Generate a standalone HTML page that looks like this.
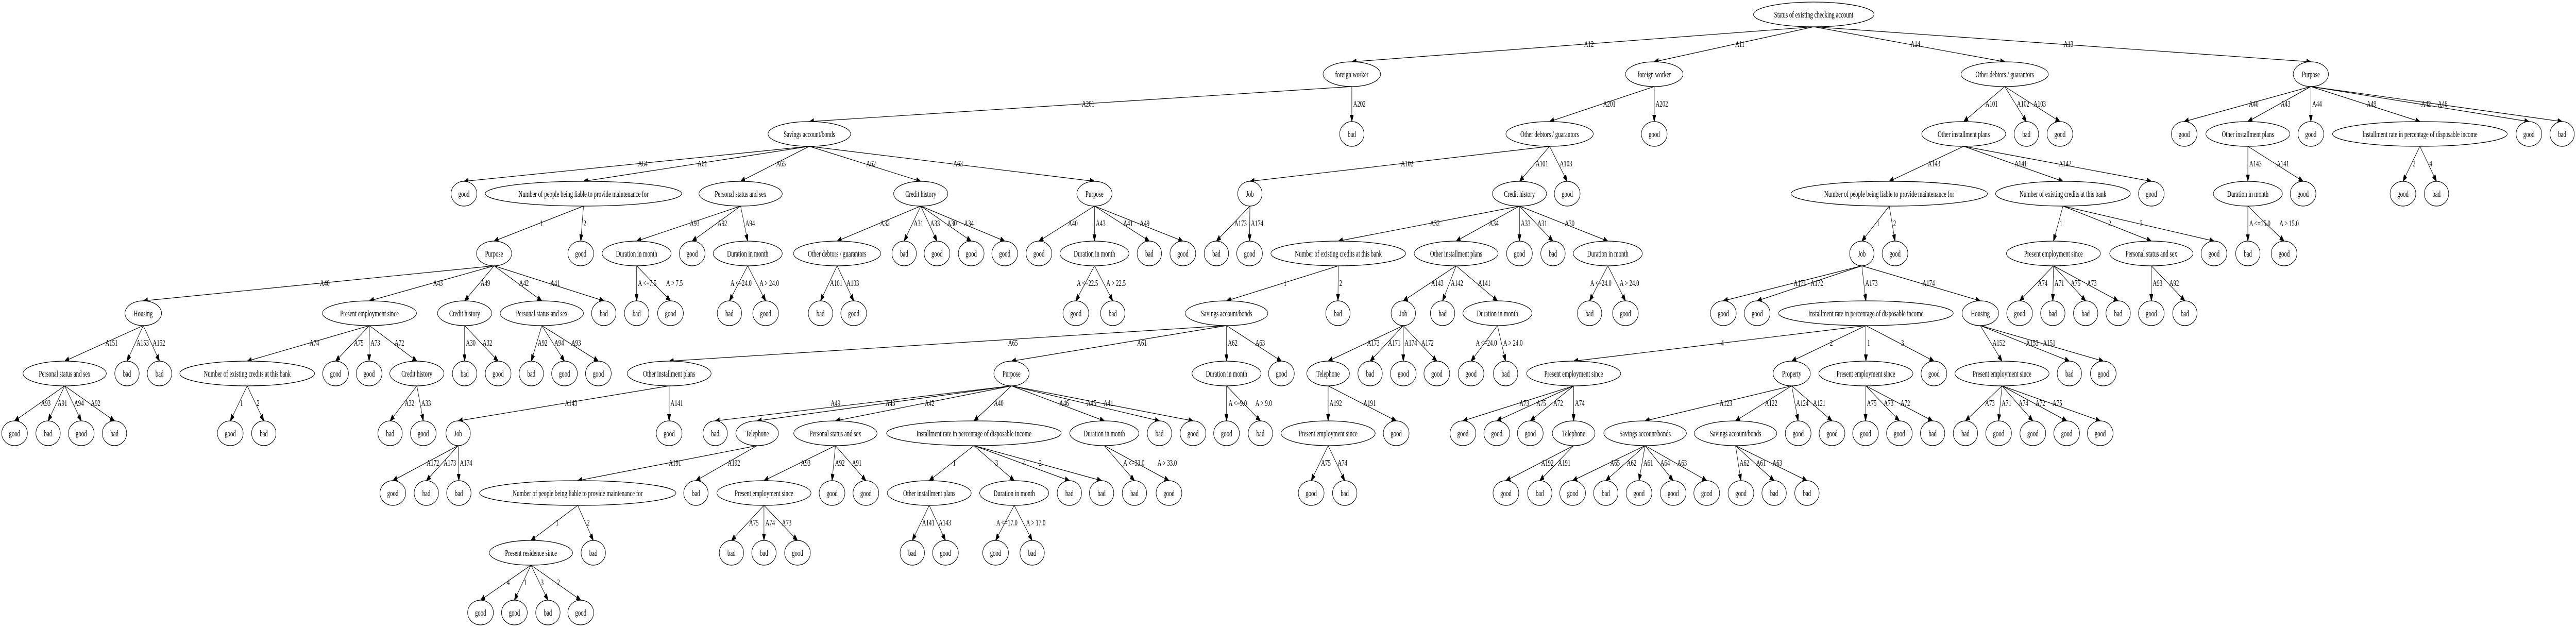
<!DOCTYPE html>
<html><head><meta charset="utf-8"><style>
html,body{margin:0;padding:0;background:#fff;overflow:hidden;width:100vw;height:100vh}
svg{display:block;width:100vw;height:100vh}
ellipse{fill:#fff;stroke:#000;stroke-width:1.3}
path{fill:none;stroke:#000;stroke-width:1.2}
text{font-family:"Liberation Serif",serif;font-size:16.5px;fill:#000}
.n{text-anchor:middle}
</style></head><body>
<svg viewBox="0 0 7607 1219" preserveAspectRatio="none" xmlns="http://www.w3.org/2000/svg">
<defs><marker id="a" markerUnits="userSpaceOnUse" markerWidth="14" markerHeight="12" refX="13" refY="5" orient="auto"><path d="M0,0L13,5L0,10Z" style="fill:#000;stroke:#000"/></marker></defs>
<g marker-end="url(#a)">
<path d="M5356,52L3992,120"/><path d="M5356,52L4885,120"/><path d="M5356,52L5920,120"/><path d="M5356,52L6824,120"/>
<path d="M3992,168L3992,236"/><path d="M3992,168L2390,236"/><path d="M4885,168L4576,236"/><path d="M4885,168L4885,236"/><path d="M5920,168L5799,236"/><path d="M5920,168L5984,236"/><path d="M5920,168L6083,236"/><path d="M6824,168L6450,236"/><path d="M6824,168L6638,236"/><path d="M6824,168L6824,236"/><path d="M6824,168L7146,236"/><path d="M6824,168L7468,236"/><path d="M6824,168L7566,236"/>
<path d="M2390,284L1370,352"/><path d="M2390,284L1723,352"/><path d="M2390,284L2187,352"/><path d="M2390,284L2719,352"/><path d="M2390,284L3232,352"/><path d="M4576,284L3691,352"/><path d="M4576,284L4487,352"/><path d="M4576,284L4628,352"/><path d="M5799,284L5579,352"/><path d="M5799,284L6092,352"/><path d="M5799,284L6353,352"/><path d="M6638,284L6638,352"/><path d="M6638,284L6801,352"/><path d="M7146,284L7096,352"/><path d="M7146,284L7195,352"/>
<path d="M1723,400L1459,468"/><path d="M1723,400L1715,468"/><path d="M2187,400L1880,468"/><path d="M2187,400L2044,468"/><path d="M2187,400L2208,468"/><path d="M2719,400L2472,468"/><path d="M2719,400L2670,468"/><path d="M2719,400L2767,468"/><path d="M2719,400L2868,468"/><path d="M2719,400L2967,468"/><path d="M3232,400L3068,468"/><path d="M3232,400L3232,468"/><path d="M3232,400L3394,468"/><path d="M3232,400L3493,468"/><path d="M3691,400L3592,468"/><path d="M3691,400L3690,468"/><path d="M4487,400L3952,468"/><path d="M4487,400L4300,468"/><path d="M4487,400L4487,468"/><path d="M4487,400L4586,468"/><path d="M4487,400L4748,468"/><path d="M5579,400L5498,468"/><path d="M5579,400L5596,468"/><path d="M6092,400L6064,468"/><path d="M6092,400L6353,468"/><path d="M6092,400L6538,468"/><path d="M6638,400L6638,468"/><path d="M6638,400L6745,468"/>
<path d="M1459,516L423,584"/><path d="M1459,516L1091,584"/><path d="M1459,516L1372,584"/><path d="M1459,516L1600,584"/><path d="M1459,516L1783,584"/><path d="M1880,516L1880,584"/><path d="M1880,516L1980,584"/><path d="M2208,516L2154,584"/><path d="M2208,516L2261,584"/><path d="M2472,516L2423,584"/><path d="M2472,516L2521,584"/><path d="M3232,516L3177,584"/><path d="M3232,516L3286,584"/><path d="M3952,516L3622,584"/><path d="M3952,516L3951,584"/><path d="M4300,516L4144,584"/><path d="M4300,516L4260,584"/><path d="M4300,516L4422,584"/><path d="M4748,516L4694,584"/><path d="M4748,516L4800,584"/><path d="M5498,516L5089,584"/><path d="M5498,516L5189,584"/><path d="M5498,516L5510,584"/><path d="M5498,516L5848,584"/><path d="M6064,516L5964,584"/><path d="M6064,516L6062,584"/><path d="M6064,516L6159,584"/><path d="M6064,516L6255,584"/><path d="M6353,516L6353,584"/><path d="M6353,516L6452,584"/>
<path d="M423,632L191,701"/><path d="M423,632L375,701"/><path d="M423,632L471,701"/><path d="M1091,632L730,701"/><path d="M1091,632L991,701"/><path d="M1091,632L1090,701"/><path d="M1091,632L1231,701"/><path d="M1372,632L1372,701"/><path d="M1372,632L1471,701"/><path d="M1600,632L1569,701"/><path d="M1600,632L1667,701"/><path d="M1600,632L1767,701"/><path d="M3622,632L1976,701"/><path d="M3622,632L2987,701"/><path d="M3622,632L3622,701"/><path d="M3622,632L3784,701"/><path d="M4144,632L3922,701"/><path d="M4144,632L4046,701"/><path d="M4144,632L4144,701"/><path d="M4144,632L4243,701"/><path d="M4422,632L4344,701"/><path d="M4422,632L4446,701"/><path d="M5510,632L4647,701"/><path d="M5510,632L5291,701"/><path d="M5510,632L5510,701"/><path d="M5510,632L5711,701"/><path d="M5848,632L5912,701"/><path d="M5848,632L6111,701"/><path d="M5848,632L6211,701"/>
<path d="M191,749L43,817"/><path d="M191,749L142,817"/><path d="M191,749L240,817"/><path d="M191,749L338,817"/><path d="M730,749L680,817"/><path d="M730,749L779,817"/><path d="M1231,749L1152,817"/><path d="M1231,749L1250,817"/><path d="M1976,749L1353,817"/><path d="M1976,749L1976,817"/><path d="M2987,749L2112,817"/><path d="M2987,749L2236,817"/><path d="M2987,749L2467,817"/><path d="M2987,749L2876,817"/><path d="M2987,749L3261,817"/><path d="M2987,749L3424,817"/><path d="M2987,749L3523,817"/><path d="M3622,749L3622,817"/><path d="M3622,749L3722,817"/><path d="M3922,749L3922,817"/><path d="M3922,749L4123,817"/><path d="M4647,749L4320,817"/><path d="M4647,749L4420,817"/><path d="M4647,749L4519,817"/><path d="M4647,749L4647,817"/><path d="M5291,749L4858,817"/><path d="M5291,749L5125,817"/><path d="M5291,749L5310,817"/><path d="M5291,749L5410,817"/><path d="M5510,749L5509,817"/><path d="M5510,749L5609,817"/><path d="M5510,749L5707,817"/><path d="M5912,749L5804,817"/><path d="M5912,749L5902,817"/><path d="M5912,749L6003,817"/><path d="M5912,749L6103,817"/><path d="M5912,749L6202,817"/>
<path d="M1353,865L1160,933"/><path d="M1353,865L1259,933"/><path d="M1353,865L1355,933"/><path d="M2236,865L1706,933"/><path d="M2236,865L2055,933"/><path d="M2467,865L2256,933"/><path d="M2467,865L2457,933"/><path d="M2467,865L2557,933"/><path d="M2876,865L2744,933"/><path d="M2876,865L2995,933"/><path d="M2876,865L3158,933"/><path d="M2876,865L3253,933"/><path d="M3261,865L3350,933"/><path d="M3261,865L3452,933"/><path d="M3922,865L3872,933"/><path d="M3922,865L3971,933"/><path d="M4647,865L4447,933"/><path d="M4647,865L4547,933"/><path d="M4858,865L4644,933"/><path d="M4858,865L4742,933"/><path d="M4858,865L4840,933"/><path d="M4858,865L4941,933"/><path d="M4858,865L5040,933"/><path d="M5125,865L5141,933"/><path d="M5125,865L5239,933"/><path d="M5125,865L5336,933"/>
<path d="M1706,981L1568,1049"/><path d="M1706,981L1752,1049"/><path d="M2256,981L2160,1049"/><path d="M2256,981L2256,1049"/><path d="M2256,981L2355,1049"/><path d="M2744,981L2694,1049"/><path d="M2744,981L2792,1049"/><path d="M2995,981L2940,1049"/><path d="M2995,981L3048,1049"/>
<path d="M1568,1097L1419,1165"/><path d="M1568,1097L1519,1165"/><path d="M1568,1097L1618,1165"/><path d="M1568,1097L1715,1165"/>
</g>
<g>
<text x="4678" y="91">A12</text><text x="5124" y="91">A11</text><text x="5642" y="91">A14</text><text x="6094" y="91">A13</text>
<text x="3996" y="207">A202</text><text x="3195" y="207">A201</text><text x="4734" y="207">A201</text><text x="4889" y="207">A202</text><text x="5863" y="207">A101</text><text x="5956" y="207">A102</text><text x="6005" y="207">A103</text><text x="6641" y="207">A40</text><text x="6735" y="207">A43</text><text x="6828" y="207">A44</text><text x="6989" y="207">A49</text><text x="7150" y="207">A42</text><text x="7199" y="207">A46</text>
<text x="1884" y="323">A64</text><text x="2060" y="323">A61</text><text x="2292" y="323">A65</text><text x="2558" y="323">A62</text><text x="2815" y="323">A63</text><text x="4137" y="323">A102</text><text x="4535" y="323">A101</text><text x="4606" y="323">A103</text><text x="5693" y="323">A143</text><text x="5949" y="323">A141</text><text x="6080" y="323">A142</text><text x="6642" y="323">A143</text><text x="6723" y="323">A141</text><text x="7125" y="323">2</text><text x="7174" y="323">4</text>
<text x="1595" y="439">1</text><text x="1723" y="439">2</text><text x="2037" y="439">A93</text><text x="2119" y="439">A92</text><text x="2201" y="439">A94</text><text x="2599" y="439">A32</text><text x="2698" y="439">A31</text><text x="2747" y="439">A33</text><text x="2797" y="439">A30</text><text x="2847" y="439">A34</text><text x="3154" y="439">A40</text><text x="3236" y="439">A43</text><text x="3317" y="439">A41</text><text x="3366" y="439">A49</text><text x="3645" y="439">A173</text><text x="3694" y="439">A174</text><text x="4223" y="439">A32</text><text x="4397" y="439">A34</text><text x="4491" y="439">A33</text><text x="4540" y="439">A31</text><text x="4621" y="439">A30</text><text x="5542" y="439">1</text><text x="5591" y="439">2</text><text x="6082" y="439">1</text><text x="6226" y="439">2</text><text x="6319" y="439">3</text><text x="6642" y="439">A &lt;=15.0</text><text x="6731" y="439">A &gt; 15.0</text>
<text x="945" y="555">A40</text><text x="1279" y="555">A43</text><text x="1419" y="555">A49</text><text x="1533" y="555">A42</text><text x="1625" y="555">A41</text><text x="1884" y="555">A &lt;=7.5</text><text x="1967" y="555">A &gt; 7.5</text><text x="2157" y="555">A &lt;=24.0</text><text x="2243" y="555">A &gt; 24.0</text><text x="2451" y="555">A101</text><text x="2500" y="555">A103</text><text x="3180" y="555">A &lt;=22.5</text><text x="3267" y="555">A &gt; 22.5</text><text x="3791" y="555">1</text><text x="3955" y="555">2</text><text x="4226" y="555">A143</text><text x="4284" y="555">A142</text><text x="4365" y="555">A141</text><text x="4696" y="555">A &lt;=24.0</text><text x="4783" y="555">A &gt; 24.0</text><text x="5297" y="555">A171</text><text x="5347" y="555">A172</text><text x="5508" y="555">A173</text><text x="5677" y="555">A174</text><text x="6018" y="555">A74</text><text x="6067" y="555">A71</text><text x="6115" y="555">A75</text><text x="6163" y="555">A73</text><text x="6357" y="555">A93</text><text x="6406" y="555">A92</text>
<text x="311" y="671">A151</text><text x="403" y="671">A153</text><text x="451" y="671">A152</text><text x="914" y="671">A74</text><text x="1045" y="671">A75</text><text x="1094" y="671">A73</text><text x="1165" y="671">A72</text><text x="1376" y="671">A30</text><text x="1425" y="671">A32</text><text x="1588" y="671">A92</text><text x="1637" y="671">A94</text><text x="1687" y="671">A93</text><text x="2977" y="671">A65</text><text x="3358" y="671">A61</text><text x="3626" y="671">A62</text><text x="3707" y="671">A63</text><text x="4037" y="671">A173</text><text x="4099" y="671">A171</text><text x="4148" y="671">A174</text><text x="4197" y="671">A172</text><text x="4358" y="671">A &lt;=24.0</text><text x="4439" y="671">A &gt; 24.0</text><text x="5082" y="671">4</text><text x="5404" y="671">2</text><text x="5514" y="671">1</text><text x="5614" y="671">3</text><text x="5884" y="671">A152</text><text x="5983" y="671">A153</text><text x="6033" y="671">A151</text>
<text x="121" y="788">A93</text><text x="170" y="788">A91</text><text x="219" y="788">A94</text><text x="268" y="788">A92</text><text x="709" y="788">1</text><text x="758" y="788">2</text><text x="1195" y="788">A32</text><text x="1244" y="788">A33</text><text x="1668" y="788">A143</text><text x="1980" y="788">A141</text><text x="2453" y="788">A49</text><text x="2615" y="788">A43</text><text x="2731" y="788">A42</text><text x="2935" y="788">A40</text><text x="3128" y="788">A46</text><text x="3209" y="788">A45</text><text x="3259" y="788">A41</text><text x="3628" y="788">A &lt;=9.0</text><text x="3707" y="788">A &gt; 9.0</text><text x="3926" y="788">A192</text><text x="4026" y="788">A191</text><text x="4487" y="788">A73</text><text x="4537" y="788">A75</text><text x="4587" y="788">A72</text><text x="4651" y="788">A74</text><text x="5078" y="788">A123</text><text x="5212" y="788">A122</text><text x="5304" y="788">A124</text><text x="5354" y="788">A121</text><text x="5513" y="788">A75</text><text x="5563" y="788">A73</text><text x="5612" y="788">A72</text><text x="5862" y="788">A73</text><text x="5911" y="788">A71</text><text x="5961" y="788">A74</text><text x="6011" y="788">A72</text><text x="6061" y="788">A75</text>
<text x="1260" y="904">A172</text><text x="1310" y="904">A173</text><text x="1358" y="904">A174</text><text x="1975" y="904">A191</text><text x="2149" y="904">A192</text><text x="2365" y="904">A93</text><text x="2466" y="904">A92</text><text x="2516" y="904">A91</text><text x="2814" y="904">1</text><text x="2939" y="904">3</text><text x="3021" y="904">4</text><text x="3068" y="904">2</text><text x="3317" y="904">A &lt;=33.0</text><text x="3418" y="904">A &gt; 33.0</text><text x="3901" y="904">A75</text><text x="3950" y="904">A74</text><text x="4551" y="904">A192</text><text x="4601" y="904">A191</text><text x="4755" y="904">A65</text><text x="4804" y="904">A62</text><text x="4853" y="904">A61</text><text x="4903" y="904">A64</text><text x="4953" y="904">A63</text><text x="5137" y="904">A62</text><text x="5186" y="904">A61</text><text x="5234" y="904">A63</text>
<text x="1641" y="1020">1</text><text x="1733" y="1020">2</text><text x="2212" y="1020">A75</text><text x="2260" y="1020">A74</text><text x="2309" y="1020">A73</text><text x="2723" y="1020">A141</text><text x="2772" y="1020">A143</text><text x="2942" y="1020">A &lt;=17.0</text><text x="3030" y="1020">A &gt; 17.0</text>
<text x="1497" y="1136">4</text><text x="1547" y="1136">1</text><text x="1597" y="1136">3</text><text x="1645" y="1136">2</text>
</g>
<g>
<ellipse cx="5356" cy="28" rx="178" ry="24"/><text class="n" x="5356" y="34">Status of existing checking account</text>
<ellipse cx="3992" cy="144" rx="85" ry="24"/><text class="n" x="3992" y="150">foreign worker</text>
<ellipse cx="4885" cy="144" rx="85" ry="24"/><text class="n" x="4885" y="150">foreign worker</text>
<ellipse cx="5920" cy="144" rx="129" ry="24"/><text class="n" x="5920" y="150">Other debtors / guarantors</text>
<ellipse cx="6824" cy="144" rx="52" ry="24"/><text class="n" x="6824" y="150">Purpose</text>

<ellipse cx="3992" cy="260" rx="36" ry="24"/><text class="n" x="3992" y="266">bad</text>
<ellipse cx="2390" cy="260" rx="122" ry="24"/><text class="n" x="2390" y="266">Savings account/bonds</text>
<ellipse cx="4576" cy="260" rx="129" ry="24"/><text class="n" x="4576" y="266">Other debtors / guarantors</text>
<ellipse cx="4885" cy="260" rx="38" ry="24"/><text class="n" x="4885" y="266">good</text>
<ellipse cx="5799" cy="260" rx="124" ry="24"/><text class="n" x="5799" y="266">Other installment plans</text>
<ellipse cx="5984" cy="260" rx="36" ry="24"/><text class="n" x="5984" y="266">bad</text>
<ellipse cx="6083" cy="260" rx="38" ry="24"/><text class="n" x="6083" y="266">good</text>
<ellipse cx="6450" cy="260" rx="38" ry="24"/><text class="n" x="6450" y="266">good</text>
<ellipse cx="6638" cy="260" rx="124" ry="24"/><text class="n" x="6638" y="266">Other installment plans</text>
<ellipse cx="6824" cy="260" rx="38" ry="24"/><text class="n" x="6824" y="266">good</text>
<ellipse cx="7146" cy="260" rx="258" ry="24"/><text class="n" x="7146" y="266">Installment rate in percentage of disposable income</text>
<ellipse cx="7468" cy="260" rx="38" ry="24"/><text class="n" x="7468" y="266">good</text>
<ellipse cx="7566" cy="260" rx="36" ry="24"/><text class="n" x="7566" y="266">bad</text>

<ellipse cx="1370" cy="376" rx="38" ry="24"/><text class="n" x="1370" y="382">good</text>
<ellipse cx="1723" cy="376" rx="290" ry="24"/><text class="n" x="1723" y="382">Number of people being liable to provide maintenance for</text>
<ellipse cx="2187" cy="376" rx="123" ry="24"/><text class="n" x="2187" y="382">Personal status and sex</text>
<ellipse cx="2719" cy="376" rx="80" ry="24"/><text class="n" x="2719" y="382">Credit history</text>
<ellipse cx="3232" cy="376" rx="52" ry="24"/><text class="n" x="3232" y="382">Purpose</text>
<ellipse cx="3691" cy="376" rx="36" ry="24"/><text class="n" x="3691" y="382">Job</text>
<ellipse cx="4487" cy="376" rx="80" ry="24"/><text class="n" x="4487" y="382">Credit history</text>
<ellipse cx="4628" cy="376" rx="38" ry="24"/><text class="n" x="4628" y="382">good</text>
<ellipse cx="5579" cy="376" rx="290" ry="24"/><text class="n" x="5579" y="382">Number of people being liable to provide maintenance for</text>
<ellipse cx="6092" cy="376" rx="199" ry="24"/><text class="n" x="6092" y="382">Number of existing credits at this bank</text>
<ellipse cx="6353" cy="376" rx="38" ry="24"/><text class="n" x="6353" y="382">good</text>
<ellipse cx="6638" cy="376" rx="102" ry="24"/><text class="n" x="6638" y="382">Duration in month</text>
<ellipse cx="6801" cy="376" rx="38" ry="24"/><text class="n" x="6801" y="382">good</text>
<ellipse cx="7096" cy="376" rx="38" ry="24"/><text class="n" x="7096" y="382">good</text>
<ellipse cx="7195" cy="376" rx="36" ry="24"/><text class="n" x="7195" y="382">bad</text>

<ellipse cx="1459" cy="492" rx="52" ry="24"/><text class="n" x="1459" y="498">Purpose</text>
<ellipse cx="1715" cy="492" rx="38" ry="24"/><text class="n" x="1715" y="498">good</text>
<ellipse cx="1880" cy="492" rx="102" ry="24"/><text class="n" x="1880" y="498">Duration in month</text>
<ellipse cx="2044" cy="492" rx="38" ry="24"/><text class="n" x="2044" y="498">good</text>
<ellipse cx="2208" cy="492" rx="102" ry="24"/><text class="n" x="2208" y="498">Duration in month</text>
<ellipse cx="2472" cy="492" rx="129" ry="24"/><text class="n" x="2472" y="498">Other debtors / guarantors</text>
<ellipse cx="2670" cy="492" rx="36" ry="24"/><text class="n" x="2670" y="498">bad</text>
<ellipse cx="2767" cy="492" rx="38" ry="24"/><text class="n" x="2767" y="498">good</text>
<ellipse cx="2868" cy="492" rx="38" ry="24"/><text class="n" x="2868" y="498">good</text>
<ellipse cx="2967" cy="492" rx="38" ry="24"/><text class="n" x="2967" y="498">good</text>
<ellipse cx="3068" cy="492" rx="38" ry="24"/><text class="n" x="3068" y="498">good</text>
<ellipse cx="3232" cy="492" rx="102" ry="24"/><text class="n" x="3232" y="498">Duration in month</text>
<ellipse cx="3394" cy="492" rx="36" ry="24"/><text class="n" x="3394" y="498">bad</text>
<ellipse cx="3493" cy="492" rx="38" ry="24"/><text class="n" x="3493" y="498">good</text>
<ellipse cx="3592" cy="492" rx="36" ry="24"/><text class="n" x="3592" y="498">bad</text>
<ellipse cx="3690" cy="492" rx="38" ry="24"/><text class="n" x="3690" y="498">good</text>
<ellipse cx="3952" cy="492" rx="199" ry="24"/><text class="n" x="3952" y="498">Number of existing credits at this bank</text>
<ellipse cx="4300" cy="492" rx="124" ry="24"/><text class="n" x="4300" y="498">Other installment plans</text>
<ellipse cx="4487" cy="492" rx="38" ry="24"/><text class="n" x="4487" y="498">good</text>
<ellipse cx="4586" cy="492" rx="36" ry="24"/><text class="n" x="4586" y="498">bad</text>
<ellipse cx="4748" cy="492" rx="102" ry="24"/><text class="n" x="4748" y="498">Duration in month</text>
<ellipse cx="5498" cy="492" rx="36" ry="24"/><text class="n" x="5498" y="498">Job</text>
<ellipse cx="5596" cy="492" rx="38" ry="24"/><text class="n" x="5596" y="498">good</text>
<ellipse cx="6064" cy="492" rx="139" ry="24"/><text class="n" x="6064" y="498">Present employment since</text>
<ellipse cx="6353" cy="492" rx="123" ry="24"/><text class="n" x="6353" y="498">Personal status and sex</text>
<ellipse cx="6538" cy="492" rx="38" ry="24"/><text class="n" x="6538" y="498">good</text>
<ellipse cx="6638" cy="492" rx="36" ry="24"/><text class="n" x="6638" y="498">bad</text>
<ellipse cx="6745" cy="492" rx="38" ry="24"/><text class="n" x="6745" y="498">good</text>

<ellipse cx="423" cy="608" rx="54" ry="24"/><text class="n" x="423" y="614">Housing</text>
<ellipse cx="1091" cy="608" rx="139" ry="24"/><text class="n" x="1091" y="614">Present employment since</text>
<ellipse cx="1372" cy="608" rx="80" ry="24"/><text class="n" x="1372" y="614">Credit history</text>
<ellipse cx="1600" cy="608" rx="123" ry="24"/><text class="n" x="1600" y="614">Personal status and sex</text>
<ellipse cx="1783" cy="608" rx="36" ry="24"/><text class="n" x="1783" y="614">bad</text>
<ellipse cx="1880" cy="608" rx="36" ry="24"/><text class="n" x="1880" y="614">bad</text>
<ellipse cx="1980" cy="608" rx="38" ry="24"/><text class="n" x="1980" y="614">good</text>
<ellipse cx="2154" cy="608" rx="36" ry="24"/><text class="n" x="2154" y="614">bad</text>
<ellipse cx="2261" cy="608" rx="38" ry="24"/><text class="n" x="2261" y="614">good</text>
<ellipse cx="2423" cy="608" rx="36" ry="24"/><text class="n" x="2423" y="614">bad</text>
<ellipse cx="2521" cy="608" rx="38" ry="24"/><text class="n" x="2521" y="614">good</text>
<ellipse cx="3177" cy="608" rx="38" ry="24"/><text class="n" x="3177" y="614">good</text>
<ellipse cx="3286" cy="608" rx="36" ry="24"/><text class="n" x="3286" y="614">bad</text>
<ellipse cx="3622" cy="608" rx="122" ry="24"/><text class="n" x="3622" y="614">Savings account/bonds</text>
<ellipse cx="3951" cy="608" rx="36" ry="24"/><text class="n" x="3951" y="614">bad</text>
<ellipse cx="4144" cy="608" rx="36" ry="24"/><text class="n" x="4144" y="614">Job</text>
<ellipse cx="4260" cy="608" rx="36" ry="24"/><text class="n" x="4260" y="614">bad</text>
<ellipse cx="4422" cy="608" rx="102" ry="24"/><text class="n" x="4422" y="614">Duration in month</text>
<ellipse cx="4694" cy="608" rx="36" ry="24"/><text class="n" x="4694" y="614">bad</text>
<ellipse cx="4800" cy="608" rx="38" ry="24"/><text class="n" x="4800" y="614">good</text>
<ellipse cx="5089" cy="608" rx="38" ry="24"/><text class="n" x="5089" y="614">good</text>
<ellipse cx="5189" cy="608" rx="38" ry="24"/><text class="n" x="5189" y="614">good</text>
<ellipse cx="5510" cy="608" rx="258" ry="24"/><text class="n" x="5510" y="614">Installment rate in percentage of disposable income</text>
<ellipse cx="5848" cy="608" rx="54" ry="24"/><text class="n" x="5848" y="614">Housing</text>
<ellipse cx="5964" cy="608" rx="38" ry="24"/><text class="n" x="5964" y="614">good</text>
<ellipse cx="6062" cy="608" rx="36" ry="24"/><text class="n" x="6062" y="614">bad</text>
<ellipse cx="6159" cy="608" rx="36" ry="24"/><text class="n" x="6159" y="614">bad</text>
<ellipse cx="6255" cy="608" rx="36" ry="24"/><text class="n" x="6255" y="614">bad</text>
<ellipse cx="6353" cy="608" rx="38" ry="24"/><text class="n" x="6353" y="614">good</text>
<ellipse cx="6452" cy="608" rx="36" ry="24"/><text class="n" x="6452" y="614">bad</text>

<ellipse cx="191" cy="725" rx="123" ry="24"/><text class="n" x="191" y="731">Personal status and sex</text>
<ellipse cx="375" cy="725" rx="36" ry="24"/><text class="n" x="375" y="731">bad</text>
<ellipse cx="471" cy="725" rx="36" ry="24"/><text class="n" x="471" y="731">bad</text>
<ellipse cx="730" cy="725" rx="199" ry="24"/><text class="n" x="730" y="731">Number of existing credits at this bank</text>
<ellipse cx="991" cy="725" rx="38" ry="24"/><text class="n" x="991" y="731">good</text>
<ellipse cx="1090" cy="725" rx="38" ry="24"/><text class="n" x="1090" y="731">good</text>
<ellipse cx="1231" cy="725" rx="80" ry="24"/><text class="n" x="1231" y="731">Credit history</text>
<ellipse cx="1372" cy="725" rx="36" ry="24"/><text class="n" x="1372" y="731">bad</text>
<ellipse cx="1471" cy="725" rx="38" ry="24"/><text class="n" x="1471" y="731">good</text>
<ellipse cx="1569" cy="725" rx="36" ry="24"/><text class="n" x="1569" y="731">bad</text>
<ellipse cx="1667" cy="725" rx="38" ry="24"/><text class="n" x="1667" y="731">good</text>
<ellipse cx="1767" cy="725" rx="38" ry="24"/><text class="n" x="1767" y="731">good</text>
<ellipse cx="1976" cy="725" rx="124" ry="24"/><text class="n" x="1976" y="731">Other installment plans</text>
<ellipse cx="2987" cy="725" rx="52" ry="24"/><text class="n" x="2987" y="731">Purpose</text>
<ellipse cx="3622" cy="725" rx="102" ry="24"/><text class="n" x="3622" y="731">Duration in month</text>
<ellipse cx="3784" cy="725" rx="38" ry="24"/><text class="n" x="3784" y="731">good</text>
<ellipse cx="3922" cy="725" rx="63" ry="24"/><text class="n" x="3922" y="731">Telephone</text>
<ellipse cx="4046" cy="725" rx="36" ry="24"/><text class="n" x="4046" y="731">bad</text>
<ellipse cx="4144" cy="725" rx="38" ry="24"/><text class="n" x="4144" y="731">good</text>
<ellipse cx="4243" cy="725" rx="38" ry="24"/><text class="n" x="4243" y="731">good</text>
<ellipse cx="4344" cy="725" rx="38" ry="24"/><text class="n" x="4344" y="731">good</text>
<ellipse cx="4446" cy="725" rx="36" ry="24"/><text class="n" x="4446" y="731">bad</text>
<ellipse cx="4647" cy="725" rx="139" ry="24"/><text class="n" x="4647" y="731">Present employment since</text>
<ellipse cx="5291" cy="725" rx="55" ry="24"/><text class="n" x="5291" y="731">Property</text>
<ellipse cx="5510" cy="725" rx="139" ry="24"/><text class="n" x="5510" y="731">Present employment since</text>
<ellipse cx="5711" cy="725" rx="38" ry="24"/><text class="n" x="5711" y="731">good</text>
<ellipse cx="5912" cy="725" rx="139" ry="24"/><text class="n" x="5912" y="731">Present employment since</text>
<ellipse cx="6111" cy="725" rx="36" ry="24"/><text class="n" x="6111" y="731">bad</text>
<ellipse cx="6211" cy="725" rx="38" ry="24"/><text class="n" x="6211" y="731">good</text>

<ellipse cx="43" cy="841" rx="38" ry="24"/><text class="n" x="43" y="847">good</text>
<ellipse cx="142" cy="841" rx="36" ry="24"/><text class="n" x="142" y="847">bad</text>
<ellipse cx="240" cy="841" rx="38" ry="24"/><text class="n" x="240" y="847">good</text>
<ellipse cx="338" cy="841" rx="36" ry="24"/><text class="n" x="338" y="847">bad</text>
<ellipse cx="680" cy="841" rx="38" ry="24"/><text class="n" x="680" y="847">good</text>
<ellipse cx="779" cy="841" rx="36" ry="24"/><text class="n" x="779" y="847">bad</text>
<ellipse cx="1152" cy="841" rx="36" ry="24"/><text class="n" x="1152" y="847">bad</text>
<ellipse cx="1250" cy="841" rx="38" ry="24"/><text class="n" x="1250" y="847">good</text>
<ellipse cx="1353" cy="841" rx="36" ry="24"/><text class="n" x="1353" y="847">Job</text>
<ellipse cx="1976" cy="841" rx="38" ry="24"/><text class="n" x="1976" y="847">good</text>
<ellipse cx="2112" cy="841" rx="36" ry="24"/><text class="n" x="2112" y="847">bad</text>
<ellipse cx="2236" cy="841" rx="63" ry="24"/><text class="n" x="2236" y="847">Telephone</text>
<ellipse cx="2467" cy="841" rx="123" ry="24"/><text class="n" x="2467" y="847">Personal status and sex</text>
<ellipse cx="2876" cy="841" rx="258" ry="24"/><text class="n" x="2876" y="847">Installment rate in percentage of disposable income</text>
<ellipse cx="3261" cy="841" rx="102" ry="24"/><text class="n" x="3261" y="847">Duration in month</text>
<ellipse cx="3424" cy="841" rx="36" ry="24"/><text class="n" x="3424" y="847">bad</text>
<ellipse cx="3523" cy="841" rx="38" ry="24"/><text class="n" x="3523" y="847">good</text>
<ellipse cx="3622" cy="841" rx="38" ry="24"/><text class="n" x="3622" y="847">good</text>
<ellipse cx="3722" cy="841" rx="36" ry="24"/><text class="n" x="3722" y="847">bad</text>
<ellipse cx="3922" cy="841" rx="139" ry="24"/><text class="n" x="3922" y="847">Present employment since</text>
<ellipse cx="4123" cy="841" rx="38" ry="24"/><text class="n" x="4123" y="847">good</text>
<ellipse cx="4320" cy="841" rx="38" ry="24"/><text class="n" x="4320" y="847">good</text>
<ellipse cx="4420" cy="841" rx="38" ry="24"/><text class="n" x="4420" y="847">good</text>
<ellipse cx="4519" cy="841" rx="38" ry="24"/><text class="n" x="4519" y="847">good</text>
<ellipse cx="4647" cy="841" rx="63" ry="24"/><text class="n" x="4647" y="847">Telephone</text>
<ellipse cx="4858" cy="841" rx="122" ry="24"/><text class="n" x="4858" y="847">Savings account/bonds</text>
<ellipse cx="5125" cy="841" rx="122" ry="24"/><text class="n" x="5125" y="847">Savings account/bonds</text>
<ellipse cx="5310" cy="841" rx="38" ry="24"/><text class="n" x="5310" y="847">good</text>
<ellipse cx="5410" cy="841" rx="38" ry="24"/><text class="n" x="5410" y="847">good</text>
<ellipse cx="5509" cy="841" rx="38" ry="24"/><text class="n" x="5509" y="847">good</text>
<ellipse cx="5609" cy="841" rx="38" ry="24"/><text class="n" x="5609" y="847">good</text>
<ellipse cx="5707" cy="841" rx="36" ry="24"/><text class="n" x="5707" y="847">bad</text>
<ellipse cx="5804" cy="841" rx="36" ry="24"/><text class="n" x="5804" y="847">bad</text>
<ellipse cx="5902" cy="841" rx="38" ry="24"/><text class="n" x="5902" y="847">good</text>
<ellipse cx="6003" cy="841" rx="38" ry="24"/><text class="n" x="6003" y="847">good</text>
<ellipse cx="6103" cy="841" rx="38" ry="24"/><text class="n" x="6103" y="847">good</text>
<ellipse cx="6202" cy="841" rx="38" ry="24"/><text class="n" x="6202" y="847">good</text>

<ellipse cx="1160" cy="957" rx="38" ry="24"/><text class="n" x="1160" y="963">good</text>
<ellipse cx="1259" cy="957" rx="36" ry="24"/><text class="n" x="1259" y="963">bad</text>
<ellipse cx="1355" cy="957" rx="36" ry="24"/><text class="n" x="1355" y="963">bad</text>
<ellipse cx="1706" cy="957" rx="290" ry="24"/><text class="n" x="1706" y="963">Number of people being liable to provide maintenance for</text>
<ellipse cx="2055" cy="957" rx="36" ry="24"/><text class="n" x="2055" y="963">bad</text>
<ellipse cx="2256" cy="957" rx="139" ry="24"/><text class="n" x="2256" y="963">Present employment since</text>
<ellipse cx="2457" cy="957" rx="38" ry="24"/><text class="n" x="2457" y="963">good</text>
<ellipse cx="2557" cy="957" rx="38" ry="24"/><text class="n" x="2557" y="963">good</text>
<ellipse cx="2744" cy="957" rx="124" ry="24"/><text class="n" x="2744" y="963">Other installment plans</text>
<ellipse cx="2995" cy="957" rx="102" ry="24"/><text class="n" x="2995" y="963">Duration in month</text>
<ellipse cx="3158" cy="957" rx="36" ry="24"/><text class="n" x="3158" y="963">bad</text>
<ellipse cx="3253" cy="957" rx="36" ry="24"/><text class="n" x="3253" y="963">bad</text>
<ellipse cx="3350" cy="957" rx="36" ry="24"/><text class="n" x="3350" y="963">bad</text>
<ellipse cx="3452" cy="957" rx="38" ry="24"/><text class="n" x="3452" y="963">good</text>
<ellipse cx="3872" cy="957" rx="38" ry="24"/><text class="n" x="3872" y="963">good</text>
<ellipse cx="3971" cy="957" rx="36" ry="24"/><text class="n" x="3971" y="963">bad</text>
<ellipse cx="4447" cy="957" rx="38" ry="24"/><text class="n" x="4447" y="963">good</text>
<ellipse cx="4547" cy="957" rx="36" ry="24"/><text class="n" x="4547" y="963">bad</text>
<ellipse cx="4644" cy="957" rx="38" ry="24"/><text class="n" x="4644" y="963">good</text>
<ellipse cx="4742" cy="957" rx="36" ry="24"/><text class="n" x="4742" y="963">bad</text>
<ellipse cx="4840" cy="957" rx="38" ry="24"/><text class="n" x="4840" y="963">good</text>
<ellipse cx="4941" cy="957" rx="38" ry="24"/><text class="n" x="4941" y="963">good</text>
<ellipse cx="5040" cy="957" rx="38" ry="24"/><text class="n" x="5040" y="963">good</text>
<ellipse cx="5141" cy="957" rx="38" ry="24"/><text class="n" x="5141" y="963">good</text>
<ellipse cx="5239" cy="957" rx="36" ry="24"/><text class="n" x="5239" y="963">bad</text>
<ellipse cx="5336" cy="957" rx="36" ry="24"/><text class="n" x="5336" y="963">bad</text>

<ellipse cx="1568" cy="1073" rx="123" ry="24"/><text class="n" x="1568" y="1079">Present residence since</text>
<ellipse cx="1752" cy="1073" rx="36" ry="24"/><text class="n" x="1752" y="1079">bad</text>
<ellipse cx="2160" cy="1073" rx="36" ry="24"/><text class="n" x="2160" y="1079">bad</text>
<ellipse cx="2256" cy="1073" rx="36" ry="24"/><text class="n" x="2256" y="1079">bad</text>
<ellipse cx="2355" cy="1073" rx="38" ry="24"/><text class="n" x="2355" y="1079">good</text>
<ellipse cx="2694" cy="1073" rx="36" ry="24"/><text class="n" x="2694" y="1079">bad</text>
<ellipse cx="2792" cy="1073" rx="38" ry="24"/><text class="n" x="2792" y="1079">good</text>
<ellipse cx="2940" cy="1073" rx="38" ry="24"/><text class="n" x="2940" y="1079">good</text>
<ellipse cx="3048" cy="1073" rx="36" ry="24"/><text class="n" x="3048" y="1079">bad</text>

<ellipse cx="1419" cy="1189" rx="38" ry="24"/><text class="n" x="1419" y="1195">good</text>
<ellipse cx="1519" cy="1189" rx="38" ry="24"/><text class="n" x="1519" y="1195">good</text>
<ellipse cx="1618" cy="1189" rx="36" ry="24"/><text class="n" x="1618" y="1195">bad</text>
<ellipse cx="1715" cy="1189" rx="38" ry="24"/><text class="n" x="1715" y="1195">good</text>
</g>
</svg>
</body></html>
